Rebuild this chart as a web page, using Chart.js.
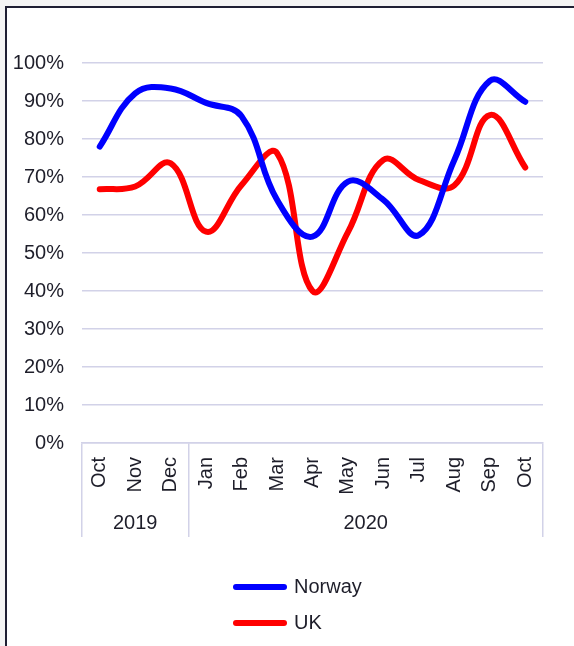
<!DOCTYPE html>
<html>
<head>
<meta charset="utf-8">
<style>
html, body { margin: 0; padding: 0; background: #ffffff; overflow: hidden; }
.blk { position: absolute; }
#topband { left: 0; top: 0; width: 574px; height: 6px; background: #f4f4f4; }
#leftband { left: 0; top: 0; width: 5px; height: 646px; background: #f4f4f4; }
#tb { left: 5px; top: 6px; width: 569px; height: 2px; background: #1f1f33; }
#lb { left: 5px; top: 6px; width: 2px; height: 640px; background: #1f1f33; }
#c { position: absolute; left: 0; top: 0; width: 574px; height: 646px; }
</style>
<script src="https://cdn.jsdelivr.net/npm/chart.js@4.4.1/dist/chart.umd.min.js"></script>
</head>
<body>
<div class="blk" id="topband"></div>
<div class="blk" id="leftband"></div>
<div class="blk" id="tb"></div>
<div class="blk" id="lb"></div>
<canvas id="c" width="574" height="646"></canvas>
<script>
// ---- data ----
const months = ['Oct', 'Nov', 'Dec', 'Jan', 'Feb', 'Mar', 'Apr', 'May', 'Jun', 'Jul', 'Aug', 'Sep', 'Oct'];
const years = ['2019', '2020'];
const yearStartIndex = [0, 3];          // first month index of each year group
const yearEndIndex = [2, 12];           // last month index of each year group
const norway = [78, 92, 93.3, 89.5, 86, 64, 54.3, 68.8, 64, 54.7, 74.5, 95.3, 89.8];
const uk = [66.8, 67.5, 73.6, 55.6, 67.9, 76.3, 40, 55.5, 74.5, 69.2, 67.8, 86.3, 72.5];
const seriesNames = ['Norway', 'UK'];
const seriesColors = ['#0000ff', '#ff0000'];
const yTickStep = 10;

// ---- style ----
const GRID = '#d2d2e8';
const TEXT = '#1e1e2a';
const FONT = "'Liberation Sans', Arial, sans-serif";
const NONE = 'rgba(0,0,0,0)';
const LINE_W = 6;

// year-axis ticks: group boundaries + group centres
const boundaries = [-0.5].concat(yearEndIndex.map(e => e + 0.5));
const centres = yearStartIndex.map((s, i) => (s + yearEndIndex[i]) / 2);
const yearTicks = boundaries.concat(centres).sort((a, b) => a - b);

const legendPlacer = {
  id: 'legendPlacer',
  afterLayout(chart) {
    const lg = chart.legend;
    if (!lg) return;
    const h = 120, w = 200;
    lg.left = 220; lg.right = lg.left + w; lg.width = w;
    lg.top = 561; lg.bottom = lg.top + h; lg.height = h;
  }
};

new Chart(document.getElementById('c'), {
  type: 'line',
  data: {
    labels: months,
    datasets: [
      { label: seriesNames[0], data: norway, borderColor: seriesColors[0], backgroundColor: seriesColors[0], pointBorderColor: seriesColors[0], pointBorderWidth: LINE_W },
      { label: seriesNames[1], data: uk, borderColor: seriesColors[1], backgroundColor: seriesColors[1], pointBorderColor: seriesColors[1], pointBorderWidth: LINE_W }
    ]
  },
  options: {
    responsive: false,
    animation: false,
    devicePixelRatio: 1,
    layout: { padding: { top: 63, right: 31, bottom: 109, left: 0 } },
    elements: {
      line: { borderWidth: LINE_W, tension: 0.4, borderCapStyle: 'round', borderJoinStyle: 'round', fill: false },
      point: { radius: 0, hoverRadius: 0 }
    },
    plugins: {
      tooltip: { enabled: false },
      legend: {
        position: 'chartArea',
        align: 'start',
        labels: {
          usePointStyle: true,
          pointStyle: 'line',
          pointStyleWidth: 48,
          padding: 16,
          color: TEXT,
          font: { family: FONT, size: 20 },
          generateLabels: chart => Chart.defaults.plugins.legend.labels.generateLabels(chart).map(l =>
            Object.assign(l, { lineWidth: LINE_W, lineCap: 'round', strokeStyle: seriesColors[l.datasetIndex], fillStyle: seriesColors[l.datasetIndex], pointStyle: 'line' }))
        }
      }
    },
    scales: {
      y: {
        min: 0, max: 100,
        ticks: { stepSize: yTickStep, callback: v => v + '%', color: TEXT, font: { family: FONT, size: 20 }, padding: 18 },
        grid: { color: GRID, lineWidth: 1.5, drawTicks: false },
        border: { display: false },
        afterFit: s => { s.width = 82; }
      },
      x: {
        type: 'category',
        offset: true,
        weight: 0,
        grid: {
          offset: true,
          drawOnChartArea: false,
          drawTicks: true,
          tickLength: 54,
          lineWidth: 1.5,
          color: ctx => (ctx.type !== 'tick' || yearStartIndex.includes(ctx.index)) ? GRID : NONE
        },
        border: { display: true, color: GRID, width: 1.5 },
        ticks: { minRotation: 90, maxRotation: 90, autoSkip: false, padding: -40, color: TEXT, font: { family: FONT, size: 20 } },
        afterFit: s => { s.height = 54; }
      },
      x2: {
        type: 'linear',
        position: 'bottom',
        weight: 1,
        min: -0.5, max: 12.5,
        afterBuildTicks: s => { s.ticks = yearTicks.map(v => ({ value: v })); },
        grid: {
          drawOnChartArea: false,
          drawTicks: true,
          tickLength: 40,
          lineWidth: 1.5,
          color: ctx => (ctx.tick && boundaries.includes(ctx.tick.value)) ? GRID : NONE
        },
        border: { display: false },
        ticks: {
          autoSkip: false, maxRotation: 0, minRotation: 0, padding: -25.5,
          color: TEXT, font: { family: FONT, size: 20 },
          callback: v => { const i = centres.indexOf(v); return i >= 0 ? years[i] : ''; }
        },
        afterFit: s => { s.height = 40; }
      }
    }
  },
  plugins: [legendPlacer]
});
</script>
</body>
</html>
